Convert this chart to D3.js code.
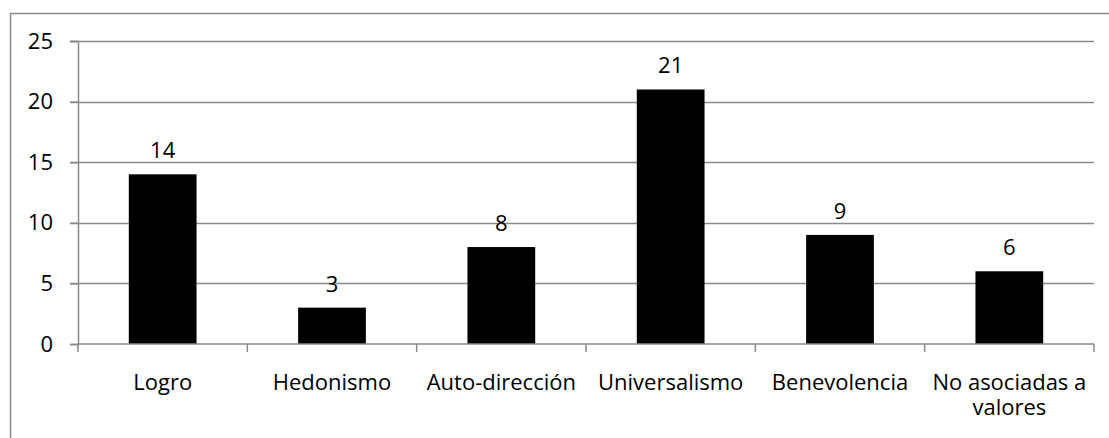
<!DOCTYPE html>
<html>
<head>
<meta charset="utf-8">
<script src="https://cdn.jsdelivr.net/npm/d3@7"></script>
<style>
  body { margin: 0; background: #fff; }
  svg { display: block; font-family: "Open Sans", "Noto Sans", sans-serif; }
</style>
</head>
<body>
<svg id="chart"></svg>
<script>
const categories = ["Logro", "Hedonismo", "Auto-dirección", "Universalismo", "Benevolencia", "No asociadas a valores"];
const values = [14, 3, 8, 21, 9, 6];
const yTicks = [0, 5, 10, 15, 20, 25];

let width = 1109;
let height = 438;
let margin = ({top: 41, right: 15, bottom: 94, left: 78});
const gray = "#8a8a8a";
const fontSize = 22;

let svg = d3.select("#chart")
  .attr("width", width)
  .attr("height", height);

// outer frame
svg.append("rect")
  .attr("x", 10.5).attr("y", 13.5)
  .attr("width", width).attr("height", height)
  .attr("fill", "none")
  .attr("stroke", gray)
  .attr("stroke-width", 1.5);

var x = d3.scaleBand().domain(categories).range([margin.left, width - margin.right]).paddingInner(0.6).paddingOuter(0.3);
var xOuter = d3.scaleBand().domain(categories).range([margin.left, width - margin.right]);
var y = d3.scaleLinear().domain([0, 25]).range([height - margin.bottom, margin.top]);

// gridlines
svg.append("g")
  .selectAll("line")
  .data(yTicks.filter(d => d > 0))
  .join("line")
  .attr("x1", margin.left - 8)
  .attr("x2", width - margin.right)
  .attr("y1", d => Math.round(y(d)) + 0.5)
  .attr("y2", d => Math.round(y(d)) + 0.5)
  .attr("stroke", gray)
  .attr("stroke-width", 1.5);

// bars
svg.append("g")
  .selectAll("rect")
  .data(values)
  .join("rect")
  .attr("x", (d, i) => x(categories[i]))
  .attr("width", x.bandwidth())
  .attr("y", d => y(d))
  .attr("height", d => y(0) - y(d))
  .attr("fill", "#000");

// value labels
svg.append("g")
  .selectAll("text")
  .data(values)
  .join("text")
  .attr("x", (d, i) => x(categories[i]) + x.bandwidth() / 2)
  .attr("y", d => y(d) - 16)
  .attr("text-anchor", "middle")
  .attr("font-size", fontSize)
  .attr("fill", "#000")
  .text(d => d);

// y axis
let yAxis = d3.axisLeft(y).tickValues(yTicks).tickSize(8).tickPadding(17);
let gy = svg.append("g")
  .attr("transform", `translate(${margin.left}, 0)`)
  .call(yAxis);
gy.selectAll("path, line").attr("stroke", gray).attr("stroke-width", 1.5);
gy.selectAll("text").attr("font-size", fontSize).attr("fill", "#000").attr("font-family", "Open Sans, sans-serif");

// x axis
let gx = svg.append("g")
  .attr("transform", `translate(0, ${y(0)})`);
gx.append("line")
  .attr("x1", margin.left).attr("x2", width - margin.right)
  .attr("stroke", gray).attr("stroke-width", 1.5);
let bounds = categories.map(c => xOuter(c)).concat([width - margin.right]);
gx.selectAll("line.tick")
  .data(bounds)
  .join("line")
  .attr("class", "tick")
  .attr("x1", d => d).attr("x2", d => d)
  .attr("y1", 0).attr("y2", 8)
  .attr("stroke", gray).attr("stroke-width", 1.5);

// category labels, wrapped like the original
const labelLines = c => c === "No asociadas a valores" ? ["No asociadas a", "valores"] : [c];
let lab = svg.append("g")
  .selectAll("text")
  .data(categories)
  .join("text")
  .attr("text-anchor", "middle")
  .attr("font-size", fontSize)
  .attr("fill", "#000")
  .attr("transform", d => `translate(${xOuter(d) + xOuter.bandwidth() / 2}, ${y(0) + 46})`);
lab.selectAll("tspan")
  .data(d => labelLines(d))
  .join("tspan")
  .attr("x", 0)
  .attr("dy", (d, i) => i === 0 ? 0 : 25)
  .text(d => d);
</script>
</body>
</html>
